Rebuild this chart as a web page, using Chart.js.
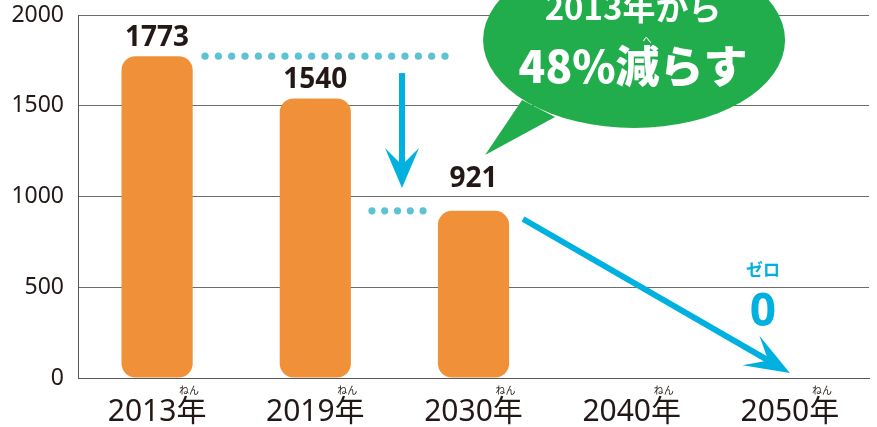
<!DOCTYPE html>
<html lang="ja">
<head>
<meta charset="utf-8">
<title>2013年から48%減らす</title>
<script src="https://cdn.jsdelivr.net/npm/chart.js@4/dist/chart.umd.min.js"></script>
<style>
  body { margin: 0; background: #fff; }
  #kutu { width: 877px; height: 427px; }
</style>
</head>
<body>
<div id="kutu"><canvas id="grafik" width="877" height="427"></canvas></div>
<script>
/* veriler */
var years = ["2013年", "2019年", "2030年", "2040年", "2050年"];
var values = [1773, 1540, 921, null, null];
var valueLabels = ["1773", "1540", "921"];
var yTicks = [0, 500, 1000, 1500, 2000];
var yearRuby = "ねん";
var bubbleLines = ["2013年から", "48%減らす"];
var bubbleRuby = "へ";
var zeroLabels = ["ゼロ", "0"];

var textColor = "#231815";
var barColor = "#f0913a";
var arrowColor = "#00b1e0";
var dotColor = "#5bc3d3";
var bubbleColor = "#21ad4c";

function drawArrow(ctx, x1, y1, x2, y2, headLen, headHalf, notch) {
  var dx = x2 - x1, dy = y2 - y1;
  var len = Math.sqrt(dx * dx + dy * dy);
  var ux = dx / len, uy = dy / len;
  var px = -uy, py = ux;
  ctx.strokeStyle = arrowColor;
  ctx.lineWidth = 6;
  ctx.beginPath();
  ctx.moveTo(x1, y1);
  ctx.lineTo(x2 - ux * notch, y2 - uy * notch);
  ctx.stroke();
  ctx.fillStyle = arrowColor;
  ctx.beginPath();
  ctx.moveTo(x2, y2);
  ctx.lineTo(x2 - ux * headLen + px * headHalf, y2 - uy * headLen + py * headHalf);
  ctx.lineTo(x2 - ux * notch, y2 - uy * notch);
  ctx.lineTo(x2 - ux * headLen - px * headHalf, y2 - uy * headLen - py * headHalf);
  ctx.closePath();
  ctx.fill();
}

function drawDots(ctx, xa, xb, y, n) {
  ctx.fillStyle = dotColor;
  for (var i = 0; i < n; i++) {
    var x = xa + (xb - xa) * i / (n - 1);
    ctx.beginPath();
    ctx.arc(x, y, 3.6, 0, Math.PI * 2);
    ctx.fill();
  }
}

/* ek cizimler: etiketler, oklar, balon */
var extras = {
  id: "extras",
  afterDraw: function (chart) {
    var ctx = chart.ctx;
    var xs = chart.scales.x, ys = chart.scales.y;
    var X = function (i) { return xs.getPixelForValue(i); };
    var Y = function (v) { return ys.getPixelForValue(v); };
    var meta = chart.getDatasetMeta(0);
    var gaps = [10, 10, 24];

    ctx.save();

    // bar values
    ctx.fillStyle = textColor;
    ctx.font = "bold 28px 'Noto Sans', sans-serif";
    ctx.textAlign = "center";
    ctx.textBaseline = "alphabetic";
    for (var i = 0; i < valueLabels.length; i++) {
      var bar = meta.data[i];
      ctx.fillText(valueLabels[i], bar.x, bar.y - gaps[i]);
    }

    // ruby over 年
    ctx.font = "10px 'Noto Sans CJK JP', sans-serif";
    ctx.textBaseline = "middle";
    for (var j = 0; j < years.length; j++) {
      ctx.fillText(yearRuby, X(j) + 32, 390);
    }

    // dotted lines
    drawDots(ctx, X(0.303), X(1.82), Y(values[0]), 19);
    drawDots(ctx, X(1.358), X(1.681), Y(values[2]), 5);

    // arrows
    drawArrow(ctx, X(1.548), Y(1680), X(1.548), Y(1047), 40, 17, 23);
    drawArrow(ctx, X(2.313), Y(876), X(4.0), Y(28), 45, 17, 25);

    // zero
    ctx.fillStyle = arrowColor;
    ctx.font = "bold 17px 'Noto Sans CJK JP', sans-serif";
    ctx.fillText(zeroLabels[0], X(3.83), 270);
    ctx.font = "bold 46px 'Noto Sans', sans-serif";
    ctx.fillText(zeroLabels[1], X(3.83), 313);

    // green bubble
    var bx = X(3.015), by = 40;
    ctx.fillStyle = bubbleColor;
    ctx.beginPath();
    ctx.ellipse(bx, by, 151, 88, 0, 0, Math.PI * 2);
    ctx.fill();
    ctx.beginPath();
    ctx.moveTo(bx - 112, 100);
    ctx.lineTo(bx - 149, 155);
    ctx.lineTo(bx - 79, 117);
    ctx.closePath();
    ctx.fill();

    ctx.fillStyle = "#fff";
    ctx.font = "bold 33px 'Noto Sans CJK JP', sans-serif";
    ctx.fillText(bubbleLines[0], bx - 1, 7);
    ctx.font = "900 44px 'Noto Sans CJK JP', sans-serif";
    ctx.fillText(bubbleLines[1], bx - 1, 66);
    ctx.font = "9px 'Noto Sans CJK JP', sans-serif";
    ctx.fillText(bubbleRuby, bx + 13, 40);

    ctx.restore();
  }
};

var ctx = document.getElementById("grafik");
var myChart = new Chart(ctx, {
  type: "bar",
  data: {
    labels: years,
    datasets: [{
      data: values,
      backgroundColor: barColor,
      borderRadius: 14,
      borderSkipped: false,
      barPercentage: 0.45,
      categoryPercentage: 1
    }]
  },
  options: {
    responsive: false,
    animation: false,
    layout: { padding: { top: 15, right: 8, left: 0, bottom: 0 } },
    plugins: { legend: { display: false }, tooltip: { enabled: false } },
    scales: {
      x: {
        grid: { display: false },
        border: { display: true, color: "#595757", width: 1 },
        ticks: {
          color: textColor,
          padding: 8,
          font: { size: 30, family: "'Noto Sans', 'Noto Sans CJK JP', sans-serif" }
        },
        afterFit: function (s) { s.height = 49; }
      },
      y: {
        min: yTicks[0],
        max: yTicks[yTicks.length - 1],
        grid: { color: "#6e6b6b", lineWidth: 1, drawTicks: false },
        border: { display: true, color: "#595757", width: 1 },
        ticks: {
          stepSize: yTicks[1] - yTicks[0],
          color: textColor,
          padding: 14,
          font: { size: 23, family: "'Noto Sans', sans-serif" },
          callback: function (v) { return String(v); }
        },
        afterFit: function (s) {
          s.width = 78;
          s.paddingTop = 0;
          s.paddingBottom = 0;
        }
      }
    }
  },
  plugins: [extras]
});
</script>
</body>
</html>
